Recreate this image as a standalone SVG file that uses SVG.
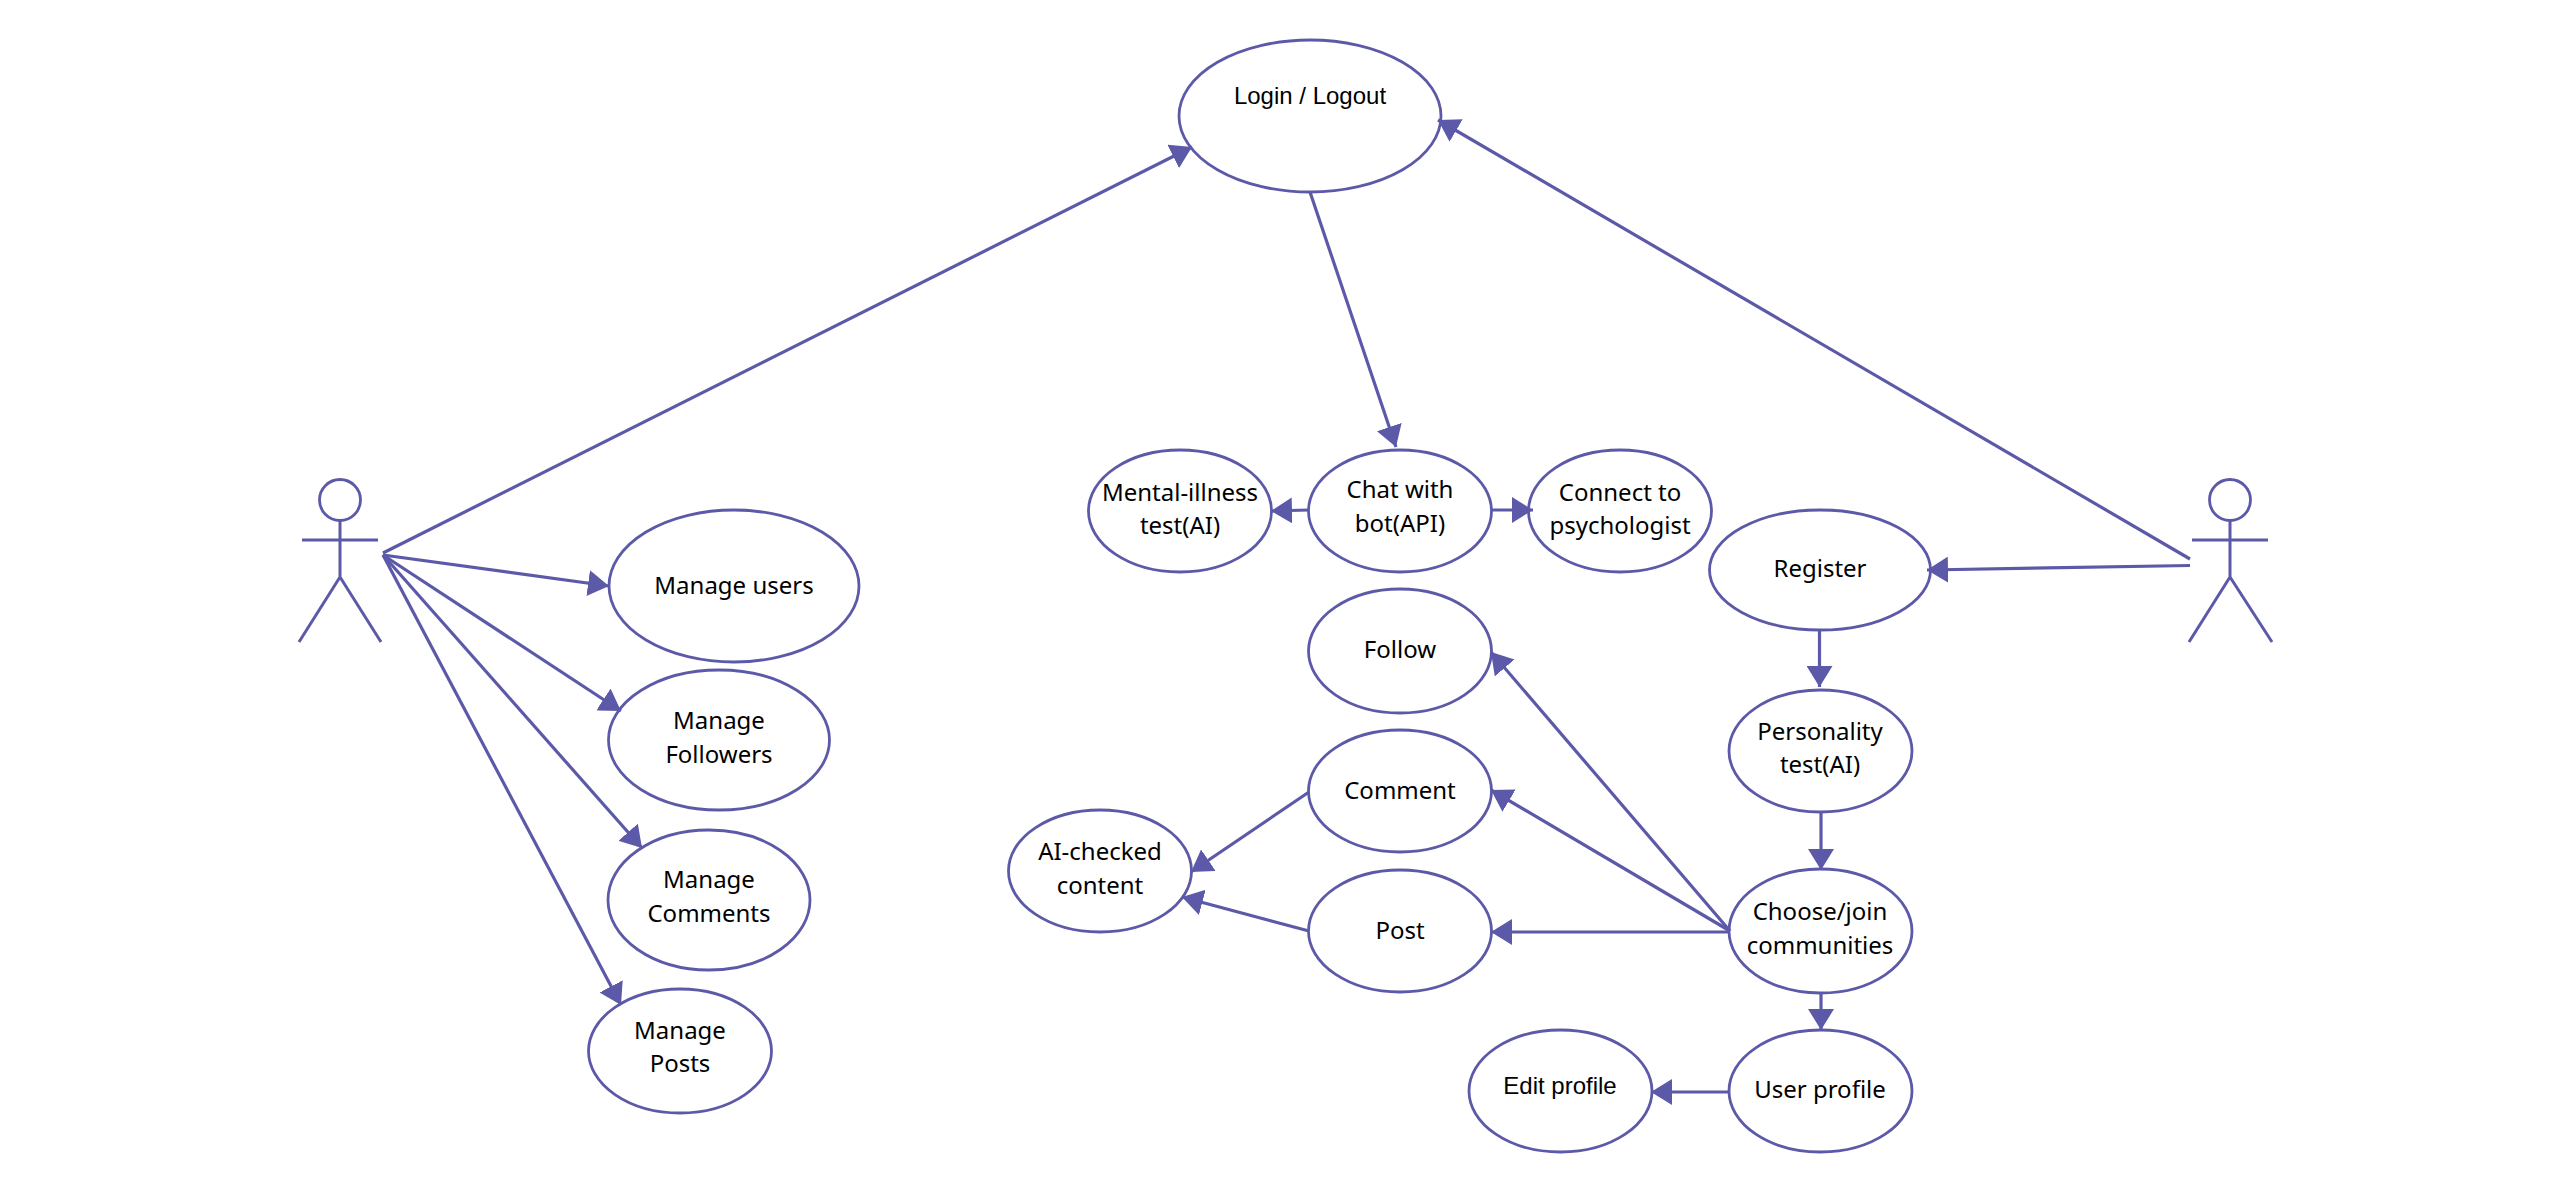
<svg xmlns="http://www.w3.org/2000/svg" width="2570" height="1192" viewBox="0 0 2570 1192">
<style>
.s{fill:#fff;stroke:#5c5aa8;stroke-width:2.800}
.a{fill:none;stroke:#5c5aa8;stroke-width:3}
.c line{stroke:#5c5aa8;stroke-width:3.200;marker-end:url(#h)}
text{font-family:"Noto Sans",sans-serif;font-size:24px;fill:#000;text-anchor:middle}
text.l{font-family:"Liberation Sans",Arial,sans-serif}
</style>
<defs><marker id="h" markerUnits="userSpaceOnUse" markerWidth="21" markerHeight="26" viewBox="0 0 21 26" refX="21" refY="13" orient="auto"><path d="M0 0L21 13L0 26z" fill="#5c5aa8"/></marker></defs>
<rect width="2570" height="1192" fill="#fff"/>
<g id="nodes">
<g id="login"><ellipse class="s" cx="1310" cy="116" rx="131" ry="76"/><text class="l" x="1310" y="104">Login / Logout</text></g>
<g id="manage-users"><ellipse class="s" cx="734" cy="586" rx="125" ry="76"/><text x="734" y="594">Manage users</text></g>
<g id="manage-followers"><ellipse class="s" cx="719" cy="740" rx="110.500" ry="70"/><text x="719" y="729">Manage</text><text x="719" y="763">Followers</text></g>
<g id="manage-comments"><ellipse class="s" cx="709" cy="900" rx="101" ry="70"/><text x="709" y="888">Manage</text><text x="709" y="922">Comments</text></g>
<g id="manage-posts"><ellipse class="s" cx="680" cy="1051" rx="91.500" ry="62"/><text x="680" y="1039">Manage</text><text x="680" y="1072">Posts</text></g>
<g id="mental"><ellipse class="s" cx="1180" cy="511" rx="91.500" ry="61"/><text x="1180" y="501">Mental-illness</text><text x="1180" y="534">test(AI)</text></g>
<g id="chat"><ellipse class="s" cx="1400" cy="511" rx="91.500" ry="61"/><text x="1400" y="498">Chat with</text><text x="1400" y="532">bot(API)</text></g>
<g id="connect"><ellipse class="s" cx="1620" cy="511" rx="91.500" ry="61"/><text x="1620" y="501">Connect to</text><text x="1620" y="534">psychologist</text></g>
<g id="register"><ellipse class="s" cx="1820" cy="570" rx="110.500" ry="60"/><text x="1820" y="577">Register</text></g>
<g id="personality"><ellipse class="s" cx="1820.500" cy="751" rx="91.500" ry="61"/><text x="1820" y="740">Personality</text><text x="1820" y="773">test(AI)</text></g>
<g id="choose"><ellipse class="s" cx="1820.500" cy="931" rx="91.500" ry="62"/><text x="1820" y="920">Choose/join</text><text x="1820" y="954">communities</text></g>
<g id="user-profile"><ellipse class="s" cx="1820.500" cy="1091" rx="91.500" ry="61"/><text x="1820" y="1098">User profile</text></g>
<g id="edit-profile"><ellipse class="s" cx="1560.500" cy="1091" rx="91.500" ry="61"/><text class="l" x="1560" y="1094">Edit profile</text></g>
<g id="follow"><ellipse class="s" cx="1400" cy="651" rx="91.500" ry="62"/><text x="1400" y="658">Follow</text></g>
<g id="comment"><ellipse class="s" cx="1400" cy="791" rx="91.500" ry="61"/><text x="1400" y="799">Comment</text></g>
<g id="post"><ellipse class="s" cx="1400" cy="931" rx="91.500" ry="61"/><text x="1400" y="939">Post</text></g>
<g id="ai-checked"><ellipse class="s" cx="1100" cy="871" rx="91.500" ry="61"/><text x="1100" y="860">AI-checked</text><text x="1100" y="894">content</text></g>
<g id="actor-left"><circle class="s" cx="340" cy="500" r="20.500"/><path class="a" d="M340 521V577M302 540H378M299 642L340 577L381 642"/></g>
<g id="actor-right"><circle class="s" cx="2230" cy="500" r="20.500"/><path class="a" d="M2230 521V577M2192 540H2268M2189 642L2230 577L2272 642"/></g>
</g>
<g id="connectors" class="c">
<line x1="383" y1="553" x2="1192" y2="147"/>
<line x1="383" y1="555" x2="609" y2="586"/>
<line x1="383" y1="555" x2="621" y2="711"/>
<line x1="383" y1="555" x2="642" y2="848"/>
<line x1="383" y1="555" x2="621" y2="1005"/>
<line x1="1310" y1="192" x2="1396" y2="447"/>
<line x1="2190" y1="559" x2="1438" y2="120"/>
<line x1="2190" y1="565.500" x2="1927" y2="570"/>
<line x1="1819.500" y1="630" x2="1819.500" y2="687"/>
<line x1="1821" y1="812" x2="1821" y2="870"/>
<line x1="1821" y1="993" x2="1821" y2="1030"/>
<line x1="1729" y1="1092" x2="1651" y2="1092"/>
<line x1="1730" y1="931" x2="1491" y2="652"/>
<line x1="1730" y1="931" x2="1491" y2="790"/>
<line x1="1730" y1="932" x2="1491" y2="932"/>
<line x1="1309" y1="792" x2="1191" y2="872"/>
<line x1="1309" y1="931" x2="1182" y2="897"/>
<line x1="1309" y1="510" x2="1271" y2="511"/>
<line x1="1491" y1="510" x2="1533" y2="510"/>
</g>
</svg>
